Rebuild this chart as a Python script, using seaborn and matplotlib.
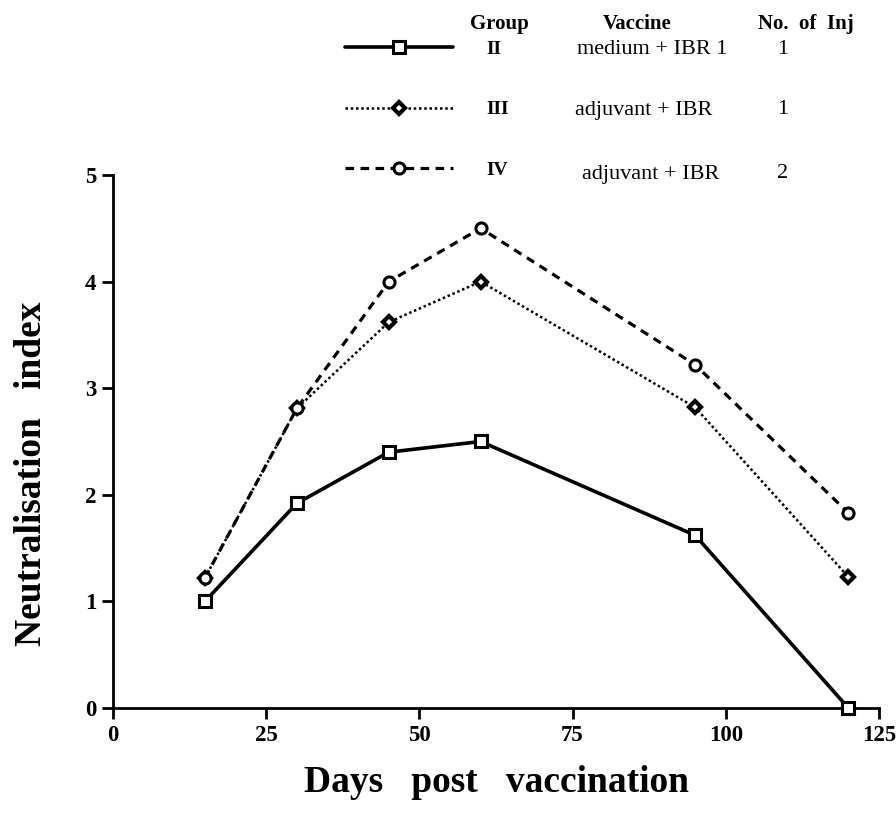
import matplotlib.pyplot as plt
import seaborn as sns

# neutralisation index per group
days = [15, 30, 45, 60, 95, 120]
index_ii = [1.0, 1.92, 2.4, 2.5, 1.62, 0.0]
index_iii = [1.22, 2.81, 3.62, 4.0, 2.82, 1.23]
index_iv = [1.22, 2.81, 4.0, 4.5, 3.22, 1.83]

groups = ["II", "III", "IV"]
vaccines = ["medium + IBR 1", "adjuvant + IBR", "adjuvant + IBR"]
injections = ["1", "1", "2"]
x_ticks = [0, 25, 50, 75, 100, 125]
y_ticks = [0, 1, 2, 3, 4, 5]

sns.set_style("ticks")
plt.rcParams["font.family"] = ["Liberation Serif", "DejaVu Serif"]
for key in ["text.color", "axes.labelcolor", "xtick.color", "ytick.color",
            "axes.edgecolor"]:
    plt.rcParams[key] = "black"

W, H = 896, 825
fig = plt.figure(figsize=(W / 100, H / 100), dpi=100)
ax = fig.add_axes([113 / W, 117 / H, 766 / W, 533 / H])

styles = [
    dict(marker="s", markersize=8, markerfacecolor="white", markeredgewidth=2.2,
         linestyle="-", linewidth=2.6),
    dict(marker="D", markersize=6.5, markerfacecolor="white", markeredgewidth=3,
         linestyle=(0, (1, 1.1)), linewidth=1.8),
    dict(marker="o", markersize=8, markerfacecolor="white", markeredgewidth=2.2,
         linestyle=(0, (2.7, 2.0)), linewidth=2.3),
]
series = [index_ii, index_iii, index_iv]
for vals, grp, st in zip(series, groups, styles):
    sns.lineplot(x=days, y=vals, ax=ax, color="black", markeredgecolor="black",
                 label=grp, clip_on=False, zorder=3, **st)

ax.set_xlim(0, 125)
ax.set_ylim(0, 5)
ax.set_xticks(x_ticks)
ax.set_yticks(y_ticks)
ax.tick_params(axis="both", direction="out", length=8, width=2,
               labelsize=16.5, pad=4)
for lab in ax.get_xticklabels() + ax.get_yticklabels():
    lab.set_fontweight("bold")
sns.despine(ax=ax)
for side in ["left", "bottom"]:
    ax.spines[side].set_linewidth(2)

ax.set_xlabel("Days   post   vaccination", fontsize=27, fontweight="bold",
              labelpad=14)
ax.set_ylabel("Neutralisation   index", fontsize=27, fontweight="bold")
ax.yaxis.set_label_coords(-0.084, 0.44)

# legend laid out like a small table
handles = ax.get_lines()[:3]
ax.legend(handles=handles, labels=groups, loc="upper left",
          bbox_to_anchor=(345 / W, 1 - 40 / H), bbox_transform=fig.transFigure,
          frameon=False, numpoints=1, handlelength=5.56, handletextpad=1.7,
          labelspacing=2.22, borderpad=0, borderaxespad=0,
          prop=dict(size=14, weight="bold"))

hy = 1 - 24 / H
fig.text(499 / W, hy, "Group", ha="center", va="center", fontsize=15,
         fontweight="bold")
fig.text(637 / W, hy, "Vaccine", ha="center", va="center", fontsize=15,
         fontweight="bold")
fig.text(806 / W, hy, "No.  of  Inj", ha="center", va="center", fontsize=15,
         fontweight="bold")

row_y = [50, 110, 174]
vac_x = [577, 575, 582]
for y, vx, vac, inj in zip(row_y, vac_x, vaccines, injections):
    fig.text(vx / W, 1 - y / H, vac, ha="left", va="center", fontsize=16)
    fig.text(783 / W, 1 - y / H, inj, ha="center", va="center", fontsize=16)

fig.savefig("out.png", dpi=100)
